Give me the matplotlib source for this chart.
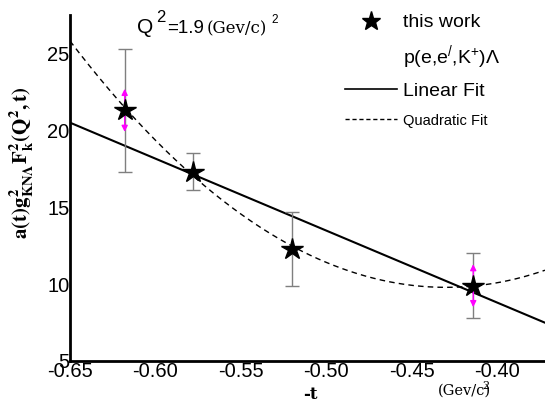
import numpy as np
import matplotlib
matplotlib.use("Agg")
from matplotlib import pyplot as plt
from matplotlib.lines import Line2D

# data
t_vals = [-0.618, -0.578, -0.520, -0.414]
y_vals = [21.3, 17.3, 12.3, 9.9]
y_err = [4.0, 1.2, 2.4, 2.1]
# inner (magenta) errors, 0 = not shown
y_err_inner = [1.4, 0.0, 0.0, 1.4]

# fits
lin_fit = np.poly1d([-46.8, -9.92])           # y = m*t + b
quad_vertex = (-0.43, 9.79)                   # (t0, y0)
quad_curv = 331.0

x_ticks = [-0.65, -0.60, -0.55, -0.50, -0.45, -0.40]
y_ticks = [5, 10, 15, 20, 25]
x_lim = (-0.65, -0.372)
y_lim = (5, 27.5)

plt.rcParams['font.family'] = ['Liberation Sans', 'DejaVu Sans']
plt.rcParams['mathtext.fontset'] = 'custom'
plt.rcParams['mathtext.rm'] = 'Liberation Sans'
plt.rcParams['mathtext.it'] = 'Liberation Sans:italic'
plt.rcParams['mathtext.bf'] = 'Liberation Sans:bold'

fig = plt.figure(figsize=(5.45, 4.03), dpi=100)
ax = fig.add_axes([70/545, 42/403, 475/545, 346/403])

tt = np.linspace(x_lim[0], x_lim[1], 300)
ax.plot(tt, lin_fit(tt), color='black', lw=1.5)
ax.plot(tt, quad_curv*(tt - quad_vertex[0])**2 + quad_vertex[1], color='black',
        lw=1.0, linestyle=(0, (4, 3)))

ax.errorbar(t_vals, y_vals, yerr=y_err, fmt='none', ecolor='#7f7f7f',
            elinewidth=1.0, capsize=5, capthick=1.0, zorder=3)
for t, y, e in zip(t_vals, y_vals, y_err_inner):
    if e > 0:
        ax.annotate('', xy=(t, y + e), xytext=(t, y - e),
                    arrowprops=dict(arrowstyle='<|-|>', color='magenta', lw=1.0,
                                    mutation_scale=9, shrinkA=0, shrinkB=0),
                    zorder=4)
ax.plot(t_vals, y_vals, linestyle='none', marker='*', markersize=16,
        color='black', zorder=5)

ax.set_xlim(*x_lim)
ax.set_ylim(*y_lim)
ax.set_xticks(x_ticks)
ax.set_xticklabels(['%.2f' % v for v in x_ticks])
ax.set_yticks(y_ticks)
ax.tick_params(length=0, labelsize=14.5, pad=0.5)
for s in ['top', 'right']:
    ax.spines[s].set_visible(False)
for s in ['left', 'bottom']:
    ax.spines[s].set_linewidth(2)

# legend
handles = [Line2D([], [], marker='*', color='black', linestyle='none', markersize=14),
           Line2D([], [], linestyle='none'),
           Line2D([], [], color='black', lw=1.2),
           Line2D([], [], color='black', lw=1.0, linestyle=(0, (3, 2)))]
labels = ['this work', r"p(e,e$^{/}$,K$^{+}$)$\Lambda$", 'Linear Fit', 'Quadratic Fit']
leg = ax.legend(handles, labels, loc='upper left', bbox_to_anchor=(335/545, 1 - 4/403),
                bbox_transform=fig.transFigure, frameon=False, fontsize=14,
                handlelength=2.7, handletextpad=0.3, labelspacing=0.6, borderpad=0)
leg.get_texts()[3].set_fontsize(10.5)

# annotations
fig.text(137/545, 1 - 33/403, 'Q', fontsize=15, va='baseline')
fig.text(156/545, 1 - 22/403, '2', fontsize=12, va='baseline')
fig.text(167/545, 1 - 33/403, '=1.9', fontsize=13.5, va='baseline')
fig.text(207/545, 1 - 33/403, '(Gev/c)', fontsize=12, va='baseline', family='serif')
fig.text(271/545, 1 - 23/403, '2', fontsize=8.5, va='baseline')
fig.text(303/545, 1 - 399/403, '-t', fontsize=12, va='baseline', ha='left',
         family='serif', weight='bold')
fig.text(438/545, 1 - 395/403, '(Gev/c)', fontsize=10.5, va='baseline', family='serif')
fig.text(482/545, 1 - 389/403, '2', fontsize=8, va='baseline', family='serif')
fig.text(22/545, 1 - 163/403,
         r'$\mathbf{a(t)g^{2}_{KN\Lambda}F_{k}^{2}(Q^{2},t)}$',
         rotation=90, fontsize=15, ha='center', va='center', math_fontfamily='stix')

fig.savefig('out.png', dpi=100)
